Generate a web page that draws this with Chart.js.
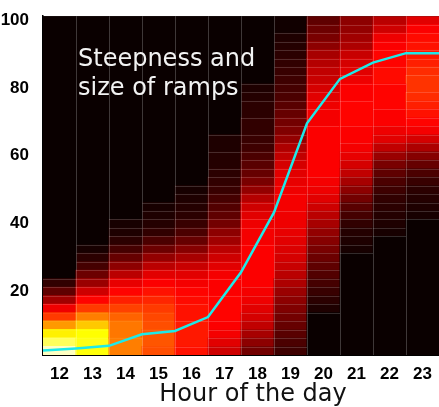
<!DOCTYPE html>
<html>
<head>
<meta charset="utf-8">
<title>Steepness and size of ramps</title>
<script src="https://cdn.jsdelivr.net/npm/chart.js@4.4.0/dist/chart.umd.min.js"></script>
<style>
  html, body { margin: 0; padding: 0; background: #fff; }
  #wrap { width: 439px; height: 407px; }
</style>
</head>
<body>
<div id="wrap"><canvas id="chart" width="439" height="407"></canvas></div>
<script>
// hours on the x axis
var hours = ['12', '13', '14', '15', '16', '17', '18', '19', '20', '21', '22', '23'];
var yTicks = [20, 40, 60, 80, 100];

// ramp size bins are 2.5 wide, listed from the bottom (0) up; heat 0..100 (hot colormap)
var binSize = 2.5;
var heat12 = [94, 84, 73, 60, 46, 35, 23, 13, 6];
var heat13 = [76, 77, 75, 67, 56, 46, 38, 30, 22, 15, 9, 5, 2];
var heat14 = [56, 56, 55, 55, 52, 47, 42, 38, 34, 27, 20, 14, 9, 5, 3, 2];
var heat15 = [49, 50, 50, 49, 48, 46, 43, 40, 37, 33, 27, 21, 15, 10, 6, 4, 3, 2];
var heat16 = [40, 41, 41, 41, 40, 40, 39, 38, 36, 33, 29, 24, 19, 14, 10, 7, 5, 4, 3, 2];
var heat17 = [30, 33, 36, 37, 38, 38, 38, 37, 37, 36, 33, 30, 27, 23, 20, 16, 13, 11, 9, 7, 6, 5, 4, 4, 3, 3];
var heat18 = [16, 20, 24, 28, 31, 33, 35, 36, 37, 37, 37, 37, 37, 36, 36, 35, 33, 30, 26, 21, 17, 14, 12, 10, 8, 7, 6, 6, 5, 5, 4, 3];
var heat19 = [8, 10, 12, 14, 16, 18, 20, 22, 25, 27, 29, 31, 32, 33, 34, 35, 35, 36, 36, 35, 34, 33, 31, 28, 25, 21, 18, 16, 14, 12, 10, 9, 8, 7, 6, 5, 4, 3, 1, 1];
var heat20 = [0, 0, 0, 0, 0, 3, 5, 7, 9, 11, 13, 15, 17, 19, 21, 24, 27, 30, 33, 35, 36, 37, 37, 37, 37, 37, 37, 36, 36, 35, 33, 31, 29, 28, 26, 24, 20, 17, 15, 13];
var heat21 = [0, 0, 0, 0, 0, 0, 0, 0, 0, 0, 0, 0, 2, 3, 4, 6, 9, 12, 16, 20, 24, 28, 31, 34, 36, 37, 37, 38, 38, 38, 37, 37, 35, 33, 31, 29, 25, 23, 21, 20];
var heat22 = [0, 0, 0, 0, 0, 0, 0, 0, 0, 0, 0, 0, 0, 0, 2, 3, 4, 5, 6, 8, 10, 13, 17, 22, 28, 33, 35, 37, 37, 38, 38, 38, 39, 39, 38, 38, 37, 35, 30, 27];
var heat23 = [0, 0, 0, 0, 0, 0, 0, 0, 0, 0, 0, 0, 0, 0, 0, 0, 2, 3, 4, 5, 7, 10, 14, 19, 25, 31, 36, 38, 40, 42, 44, 45, 45, 44, 42, 41, 40, 39, 37, 33];

// cyan curve, vertices sit on the column edges
var rampX = [11.5, 12.5, 13.5, 14.5, 15.5, 16.5, 17.5, 18.5, 19.5, 20.5, 21.5, 22.5, 23.5];
var rampY = [1.3, 1.9, 2.7, 6.1, 7.1, 11.2, 24.4, 42.1, 68.4, 81.5, 86.3, 89.1, 89.1];

var heatCols = [heat12, heat13, heat14, heat15, heat16, heat17, heat18, heat19, heat20, heat21, heat22, heat23];
var nBins = 100 / binSize;

function hot(h) {
  var t = h / 100;
  var r = Math.min(1, 0.04 + t * 2.56);
  var g = Math.max(0, Math.min(1, (t - 0.375) / 0.375));
  var b = Math.max(0, Math.min(1, (t - 0.75) / 0.25));
  return 'rgb(' + Math.round(r * 255) + ',' + Math.round(g * 255) + ',' + Math.round(b * 255) + ')';
}

// merge runs of equal heat into one cell per column
var segs = heatCols.map(function(col) {
  var out = [];
  for (var i = 0; i < nBins; i++) {
    var h = i < col.length ? col[i] : 0;
    var last = out[out.length - 1];
    if (last && last.h === h) {
      last.hi = (i + 1) * binSize;
    } else {
      out.push({lo: i * binSize, hi: (i + 1) * binSize, h: h});
    }
  }
  return out;
});

var maxSegs = Math.max.apply(null, segs.map(function(s) { return s.length; }));
var datasets = [];

datasets.push({
  type: 'line',
  xAxisID: 'x2',
  order: -1,
  data: rampX.map(function(x, i) { return {x: x, y: rampY[i]}; }),
  borderColor: '#1de9e9',
  borderWidth: 2.5,
  pointRadius: 0,
  tension: 0,
  fill: false
});

for (var k = 0; k < maxSegs; k++) {
  datasets.push({
    type: 'bar',
    xAxisID: 'x',
    data: segs.map(function(s) { return s[k] ? [s[k].lo, s[k].hi] : null; }),
    backgroundColor: segs.map(function(s) { return s[k] ? hot(s[k].h) : 'rgba(0,0,0,0)'; }),
    borderWidth: 0,
    inflateAmount: 0.5,
    categoryPercentage: 1,
    barPercentage: 1,
    grouped: false
  });
}

var overlay = {
  id: 'overlay',
  beforeDatasetsDraw: function(chart) {
    var a = chart.chartArea, ctx = chart.ctx;
    ctx.save();
    ctx.fillStyle = 'rgb(10,0,0)';
    ctx.fillRect(a.left, a.top, a.right - a.left, a.bottom - a.top);
    ctx.restore();
  },
  afterDatasetDraw: function(chart, args) {
    if (args.meta.type !== 'bar') return;
    var ctx = chart.ctx, a = chart.chartArea;
    var ds = chart.data.datasets[args.index];
    ctx.save();
    ctx.lineWidth = 1;
    args.meta.data.forEach(function(bar, i) {
      if (!ds.data[i]) return;
      var top = Math.min(bar.y, bar.base);
      if (top < a.top + 2) return;
      var y = Math.round(top) + 0.5;
      ctx.strokeStyle = segs[i][args.index - 1].h > 45 ? 'rgba(255,255,255,0.06)' : 'rgba(255,255,255,0.17)';
      ctx.beginPath();
      ctx.moveTo(bar.x - bar.width / 2, y);
      ctx.lineTo(bar.x + bar.width / 2, y);
      ctx.stroke();
    });
    ctx.restore();
  },
  beforeDatasetDraw: function(chart, args) {
    if (args.meta.type !== 'line') return;
    var ctx = chart.ctx, a = chart.chartArea;
    var xs = chart.scales.x;
    ctx.save();
    // column separators
    ctx.strokeStyle = 'rgba(255,255,255,0.22)';
    ctx.lineWidth = 1;
    for (var i = 1; i < hours.length; i++) {
      var x = Math.round((xs.getPixelForTick(i - 1) + xs.getPixelForTick(i)) / 2) + 0.5;
      ctx.beginPath();
      ctx.moveTo(x, a.top);
      ctx.lineTo(x, a.bottom);
      ctx.stroke();
    }
    // annotation
    ctx.fillStyle = '#f2f2f2';
    ctx.font = '24px "DejaVu Sans", sans-serif';
    ctx.textAlign = 'left';
    ctx.textBaseline = 'alphabetic';
    ctx.fillText('Steepness and', a.left + 35, a.top + 50);
    ctx.fillText('size of ramps', a.left + 35, a.top + 79);
    ctx.restore();
  },
  afterDraw: function(chart) {
    var ctx = chart.ctx, a = chart.chartArea;
    ctx.save();
    ctx.fillStyle = '#111';
    ctx.font = '24px "DejaVu Sans", sans-serif';
    ctx.textAlign = 'center';
    ctx.textBaseline = 'alphabetic';
    ctx.fillText('Hour of the day', (a.left + a.right) / 2 + 12, 401);
    ctx.restore();
  }
};

var chart = new Chart(document.getElementById('chart').getContext('2d'), {
  data: {labels: hours, datasets: datasets},
  options: {
    responsive: false,
    animation: false,
    events: [],
    layout: {padding: {top: 13, right: 0, left: 0, bottom: 0}},
    plugins: {legend: {display: false}, tooltip: {enabled: false}},
    scales: {
      x: {
        type: 'category',
        offset: true,
        grid: {display: false},
        border: {display: true, color: '#000', width: 2},
        ticks: {color: '#000', padding: 1, font: {family: '"Liberation Sans", Arial, sans-serif', size: 17, weight: 'bold'}},
        afterFit: function(scale) { scale.height = 52; }
      },
      x2: {type: 'linear', min: 11.5, max: 23.5, display: false},
      y: {
        min: 0,
        max: 100,
        grid: {display: false},
        border: {display: true, color: '#000', width: 1.5},
        afterBuildTicks: function(scale) {
          scale.ticks = yTicks.map(function(v) { return {value: v}; });
        },
        ticks: {color: '#000', padding: 6, labelOffset: 4, font: {family: '"Liberation Sans", Arial, sans-serif', size: 17, weight: 'bold'}},
        afterFit: function(scale) { scale.width = 43; }
      }
    }
  },
  plugins: [overlay]
});
</script>
</body>
</html>
